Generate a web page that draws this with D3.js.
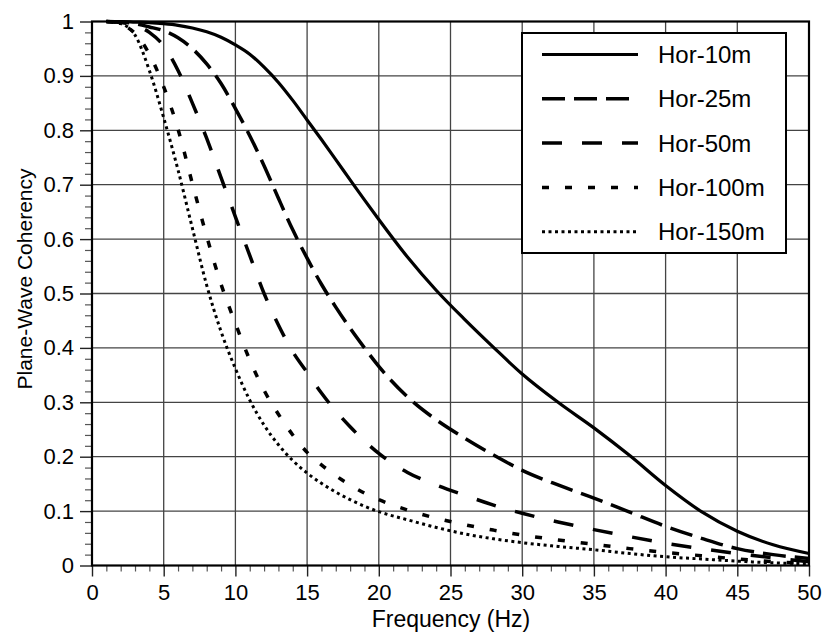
<!DOCTYPE html>
<html>
<head>
<meta charset="utf-8">
<script src="https://cdn.jsdelivr.net/npm/d3@7"></script>
<style>
  body { margin: 0; background: #fff; }
  svg text { font-family: "Liberation Sans", Arial, Helvetica, sans-serif; fill: #000; }
</style>
</head>
<body>
<div id="chart"></div>
<script>
// frequency samples (Hz) shared by all series
const freq = [1, 2, 3, 4, 5, 6, 7, 8, 9, 10, 11, 12, 13, 14, 15, 16, 17, 18, 19, 20,
  22, 24, 26, 28, 30, 32.5, 35, 37.5, 40, 42.5, 45, 47.5, 50];

// coherency
const hor10 = [1.0, 1.0, 0.999, 0.998, 0.996, 0.993, 0.988, 0.981, 0.971, 0.957, 0.94, 0.916, 0.888, 0.855, 0.819, 0.783, 0.746, 0.709, 0.672, 0.636,
  0.567, 0.506, 0.452, 0.401, 0.352, 0.3, 0.253, 0.202, 0.147, 0.099, 0.063, 0.038, 0.022];
const hor25 = [1.0, 0.999, 0.996, 0.99, 0.983, 0.97, 0.95, 0.922, 0.886, 0.84, 0.79, 0.735, 0.675, 0.617, 0.565, 0.517, 0.475, 0.436, 0.4, 0.366,
  0.31, 0.268, 0.234, 0.203, 0.175, 0.148, 0.124, 0.098, 0.072, 0.05, 0.031, 0.02, 0.013];
const hor50 = [1.0, 0.998, 0.993, 0.98, 0.955, 0.91, 0.85, 0.785, 0.713, 0.641, 0.57, 0.5, 0.442, 0.393, 0.355, 0.317, 0.284, 0.255, 0.229, 0.206,
  0.171, 0.148, 0.129, 0.111, 0.096, 0.08, 0.066, 0.053, 0.041, 0.031, 0.022, 0.014, 0.007];
const hor100 = [1.0, 0.995, 0.978, 0.94, 0.88, 0.802, 0.702, 0.605, 0.517, 0.445, 0.378, 0.322, 0.278, 0.24, 0.208, 0.185, 0.165, 0.148, 0.133, 0.121,
  0.102, 0.087, 0.075, 0.065, 0.056, 0.047, 0.039, 0.031, 0.024, 0.018, 0.012, 0.007, 0.004];
const hor150 = [1.0, 0.996, 0.975, 0.91, 0.823, 0.727, 0.62, 0.515, 0.43, 0.362, 0.304, 0.258, 0.222, 0.193, 0.17, 0.151, 0.135, 0.121, 0.109, 0.099,
  0.084, 0.07, 0.058, 0.049, 0.042, 0.035, 0.029, 0.022, 0.016, 0.012, 0.008, 0.005, 0.003];

const seriesNames = ["Hor-10m", "Hor-25m", "Hor-50m", "Hor-100m", "Hor-150m"];
const seriesValues = [hor10, hor25, hor50, hor100, hor150];
const dashes = [null, "23,9", "20,20", "7,16", "3,3.5"];
const widths = [3.2, 3.5, 3.5, 3.5, 3];

const xTicks = [0, 5, 10, 15, 20, 25, 30, 35, 40, 45, 50];
const yTicks = [0, 0.1, 0.2, 0.3, 0.4, 0.5, 0.6, 0.7, 0.8, 0.9, 1];
const yTickLabels = ["0", "0.1", "0.2", "0.3", "0.4", "0.5", "0.6", "0.7", "0.8", "0.9", "1"];

const W = 822, H = 640;
const plotLeft = 92, plotTop = 21.5, plotRight = 809, plotBottom = 565.5;

const svg = d3.select("#chart").append("svg")
  .attr("width", W)
  .attr("height", H);

const x = d3.scaleLinear().domain([0, 50]).range([plotLeft, plotRight]);
const y = d3.scaleLinear().domain([0, 1]).range([plotBottom, plotTop]);

// grid
svg.append("g")
  .selectAll("line")
  .data(xTicks.slice(1, -1))
  .join("line")
  .attr("x1", d => x(d)).attr("x2", d => x(d))
  .attr("y1", plotTop).attr("y2", plotBottom)
  .attr("stroke", "#444").attr("stroke-width", 1.3);

svg.append("g")
  .selectAll("line")
  .data(yTicks.slice(1, -1))
  .join("line")
  .attr("x1", plotLeft).attr("x2", plotRight)
  .attr("y1", d => y(d)).attr("y2", d => y(d))
  .attr("stroke", "#444").attr("stroke-width", 1.3);

// minor ticks
const xMinor = d3.range(0, 51).filter(d => d % 5 != 0);
const yMinor = d3.range(1, 50).filter(d => d % 5 != 0).map(d => d / 50);

svg.append("g")
  .attr("transform", `translate(0, ${plotBottom})`)
  .call(d3.axisBottom(x).tickValues(xMinor).tickSize(6).tickFormat(""))
  .call(g => g.select(".domain").remove())
  .call(g => g.selectAll("line").attr("stroke", "#555").attr("stroke-width", 1.2));

svg.append("g")
  .attr("transform", `translate(${plotLeft}, 0)`)
  .call(d3.axisLeft(y).tickValues(yMinor).tickSize(7).tickFormat(""))
  .call(g => g.select(".domain").remove())
  .call(g => g.selectAll("line").attr("stroke", "#555").attr("stroke-width", 1.2));

// major axes
const xAxis = svg.append("g")
  .attr("transform", `translate(0, ${plotBottom})`)
  .call(d3.axisBottom(x).tickValues(xTicks).tickSize(11).tickPadding(8).tickFormat(d3.format("d")));
xAxis.select(".domain").remove();
xAxis.selectAll("line").attr("stroke", "#222").attr("stroke-width", 1.4);
xAxis.selectAll("text").attr("font-size", 22);

const yAxis = svg.append("g")
  .attr("transform", `translate(${plotLeft}, 0)`)
  .call(d3.axisLeft(y).tickValues(yTicks).tickSize(12).tickPadding(6).tickFormat((d, i) => yTickLabels[i]));
yAxis.select(".domain").remove();
yAxis.selectAll("line").attr("stroke", "#222").attr("stroke-width", 1.4);
yAxis.selectAll("text").attr("font-size", 22);

// frame
svg.append("rect")
  .attr("x", plotLeft).attr("y", plotTop)
  .attr("width", plotRight - plotLeft).attr("height", plotBottom - plotTop)
  .attr("fill", "none").attr("stroke", "#000").attr("stroke-width", 2.2);

// curves
const line = d3.line()
  .x((d, i) => x(freq[i]))
  .y(d => y(d))
  .curve(d3.curveMonotoneX);

seriesValues.forEach((vals, k) => {
  svg.append("path")
    .datum(vals)
    .attr("d", line)
    .attr("fill", "none")
    .attr("stroke", "#000")
    .attr("stroke-width", widths[k])
    .attr("stroke-dasharray", dashes[k]);
});

// legend
const lg = svg.append("g");
lg.append("rect")
  .attr("x", 522).attr("y", 33)
  .attr("width", 264).attr("height", 220)
  .attr("fill", "#fff").attr("stroke", "#000").attr("stroke-width", 2);

seriesNames.forEach((name, k) => {
  const ly = 54.5 + k * 44.3;
  lg.append("line")
    .attr("x1", 542).attr("x2", 638)
    .attr("y1", ly).attr("y2", ly)
    .attr("stroke", "#000")
    .attr("stroke-width", widths[k])
    .attr("stroke-dasharray", dashes[k]);
  lg.append("text")
    .attr("x", 658).attr("y", ly)
    .attr("dy", "0.36em")
    .attr("font-size", 24)
    .text(name);
});

// axis titles
svg.append("text")
  .attr("x", 451).attr("y", 627)
  .attr("text-anchor", "middle")
  .attr("font-size", 23)
  .text("Frequency (Hz)");

svg.append("text")
  .attr("transform", "translate(32, 279) rotate(-90)")
  .attr("text-anchor", "middle")
  .attr("font-size", 21)
  .text("Plane-Wave Coherency");
</script>
</body>
</html>
